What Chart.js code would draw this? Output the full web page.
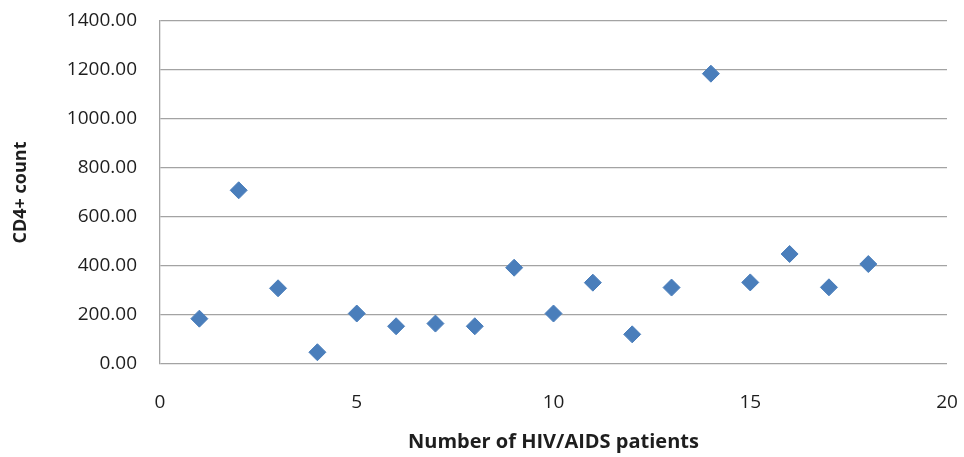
<!DOCTYPE html>
<html>
<head>
<meta charset="utf-8">
<script src="https://cdn.jsdelivr.net/npm/chart.js@4/dist/chart.umd.min.js"></script>
<style>
  html, body { margin: 0; padding: 0; background: #fff; }
  #wrap { width: 964px; height: 457px; }
</style>
</head>
<body>
<div id="wrap"><canvas id="grafica" width="964" height="457"></canvas></div>
<script>
// pacientes y conteo CD4+
const pacientes = [1, 2, 3, 4, 5, 6, 7, 8, 9, 10, 11, 12, 13, 14, 15, 16, 17, 18];
const cd4 = [185, 709, 309, 48, 206, 154, 165, 154, 393, 206, 332, 121, 312, 1185, 333, 449, 313, 408];
const xTicks = [0, 5, 10, 15, 20];
const yTicks = [0, 200, 400, 600, 800, 1000, 1200, 1400];

const FUENTE = "'Open Sans', 'DejaVu Sans', sans-serif";
const GRIS = "#a3a3a3";
const TEXTO = "#1e1e1e";

const puntos = pacientes.map((p, i) => ({ x: p, y: cd4[i] }));

const ctx = document.getElementById("grafica").getContext("2d");
new Chart(ctx, {
    type: "scatter",
    data: {
        datasets: [{
            label: "CD4+ count",
            data: puntos,
            pointStyle: "rectRot",
            pointRadius: 8.5,
            pointHoverRadius: 8.5,
            backgroundColor: "#4a7ebb",
            borderColor: "#4a7ebb",
            borderWidth: 1
        }]
    },
    options: {
        responsive: false,
        animation: false,
        layout: { padding: { top: 21, right: 17, left: 0, bottom: 0 } },
        plugins: {
            legend: { display: false },
            tooltip: { enabled: false }
        },
        scales: {
            x: {
                type: "linear",
                min: xTicks[0],
                max: xTicks[xTicks.length - 1],
                afterBuildTicks: s => { s.ticks = xTicks.map(v => ({ value: v })); },
                // fijar el alto del eje y quitar el relleno extra de las etiquetas
                afterFit: s => { s.height = 93; s.paddingLeft = 0; s.paddingRight = 0; },
                grid: { display: false, drawTicks: false },
                border: { display: false },
                ticks: { padding: 27, color: TEXTO, font: { family: FUENTE, size: 19 } },
                title: {
                    display: true,
                    text: "Number of HIV/AIDS patients",
                    color: TEXTO,
                    font: { family: FUENTE, size: 20, weight: "bold" },
                    padding: { top: 0, bottom: 3 }
                }
            },
            y: {
                min: yTicks[0],
                max: yTicks[yTicks.length - 1],
                afterBuildTicks: s => { s.ticks = yTicks.map(v => ({ value: v })); },
                afterFit: s => { s.width = 160; s.paddingTop = 0; s.paddingBottom = 0; },
                grid: { color: GRIS, lineWidth: 1.3, drawTicks: false },
                border: { display: true, color: GRIS, width: 1.3 },
                ticks: {
                    padding: 23,
                    color: TEXTO,
                    font: { family: FUENTE, size: 19 },
                    callback: v => Number(v).toFixed(2)
                },
                title: {
                    display: true,
                    text: "CD4+ count",
                    color: TEXTO,
                    font: { family: FUENTE, size: 18, weight: "bold" },
                    padding: { top: 10, bottom: 0 }
                }
            }
        }
    }
});
</script>
</body>
</html>
